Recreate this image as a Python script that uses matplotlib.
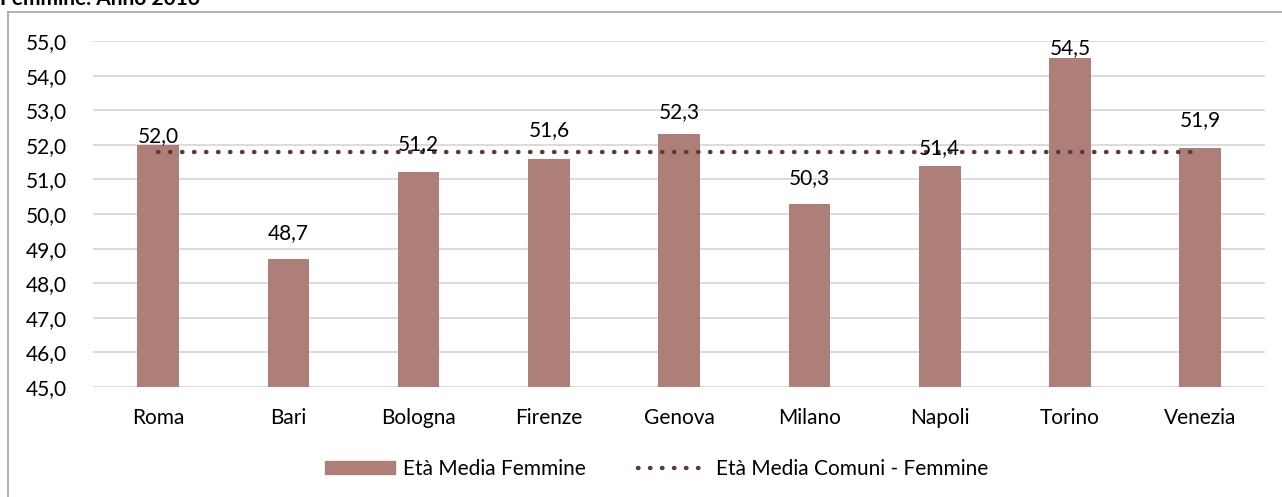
import numpy as np
import matplotlib
matplotlib.use('Agg')
import matplotlib.pyplot as plt
from matplotlib.lines import Line2D
from matplotlib.ticker import FuncFormatter

plt.rcParams['font.family'] = ['Lato', 'DejaVu Sans']

# dati
comuni = ['Roma', 'Bari', 'Bologna', 'Firenze', 'Genova', 'Milano', 'Napoli', 'Torino', 'Venezia']
eta_media_femmine = [52.0, 48.7, 51.2, 51.6, 52.3, 50.3, 51.4, 54.5, 51.9]
eta_media_comuni = [51.8, 51.8, 51.8, 51.8, 51.8, 51.8, 51.8, 51.8, 51.8]
titolo = 'Femmine. Anno 2016'

# distanza (punti) tra la cima della barra e l'etichetta, come nell'originale
label_gap = [2, 14, 16, 16, 12, 14, 8, 3, 16]

bar_color = '#AD7F78'
line_color = '#5E3A36'
fs = 15
dots = (0, (0.1, 2.6))

fig = plt.figure(figsize=(12.82, 4.97), dpi=100)
ax = fig.add_axes([0.0725, 0.2213, 0.9145, 0.6962])

x = np.arange(len(comuni))
ax.bar(x, eta_media_femmine, width=0.32, color=bar_color, zorder=2)
ax.plot(x, eta_media_comuni, linestyle=dots, dash_capstyle='round',
        color=line_color, lw=3.2, zorder=3)

# etichette dei valori
for xi, v, g in zip(x, eta_media_femmine, label_gap):
    ax.annotate(f'{v:.1f}'.replace('.', ','), (xi, v), xytext=(0, g),
                textcoords='offset points', ha='center', va='baseline',
                fontsize=fs, color='#000000', zorder=4)

ax.set_xlim(-0.5, len(comuni) - 0.5)
ax.set_ylim(45, 55)
ax.set_yticks(np.arange(45, 55.1, 1))
ax.yaxis.set_major_formatter(FuncFormatter(lambda v, p: f'{v:.1f}'.replace('.', ',')))
ax.set_xticks(x)
ax.set_xticklabels(comuni)
ax.tick_params(axis='both', length=0, labelsize=fs, colors='#000000')
ax.tick_params(axis='y', pad=18.5)
ax.tick_params(axis='x', pad=15)
ax.grid(axis='y', color='#D9D9D9', lw=1.3, zorder=0)
ax.set_axisbelow(True)
for s in ax.spines.values():
    s.set_visible(False)

# cornice del grafico
fx = 8 / 1282
fy = 1 - 12 / 497
fig.add_artist(Line2D([fx, fx], [0, fy], transform=fig.transFigure, color='#A6A6A6', lw=1.2))
fig.add_artist(Line2D([fx, 1], [fy, fy], transform=fig.transFigure, color='#A6A6A6', lw=1.2))

# titolo (tagliato in alto)
fig.text(0.0, 1 - 5 / 497, titolo, fontsize=fs, fontweight='bold', va='baseline', ha='left')

handles = [
    plt.Rectangle((0, 0), 1, 1, color=bar_color),
    Line2D([0], [0], linestyle=dots, dash_capstyle='round', color=line_color, lw=3.2),
]
fig.legend(handles, ['Età Media Femmine', 'Età Media Comuni - Femmine'],
           loc='center', bbox_to_anchor=(0.512, 1 - 469 / 497), ncol=2, frameon=False,
           fontsize=fs, handlelength=3.36, handleheight=0.6, columnspacing=2.5,
           handletextpad=0.38)

fig.savefig('out.png', dpi=100)
